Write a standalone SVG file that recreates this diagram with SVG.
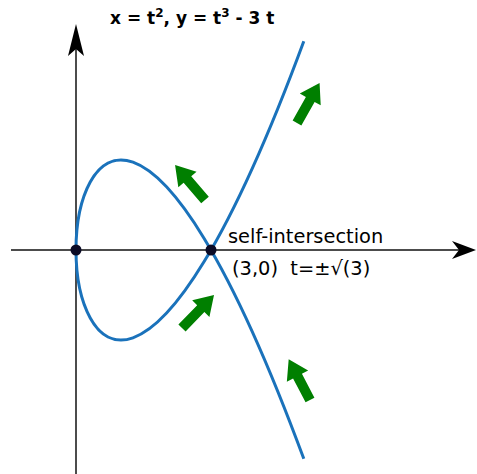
<svg xmlns="http://www.w3.org/2000/svg" width="477" height="474" viewBox="0 0 477 474">
<style>
.axis{stroke:#111;stroke-width:1.5;fill:none}
.head{fill:#000}
.curve{stroke:#1a72bb;stroke-width:3;fill:none}
.dot{fill:#0b0b26}
.garrow{fill:#007f00}
.lbl{font-family:"DejaVu Sans",sans-serif;font-size:19.4px;fill:#000;white-space:pre}
.title{font-family:"DejaVu Sans",sans-serif;font-size:17px;font-weight:bold;fill:#000}
</style>
<defs>
<path id="ga" d="M0,-5 H27 V-12 L46,0 L27,12 V5 H0 Z"/>
</defs>
<rect width="477" height="474" fill="#fff"/>
<g id="connectors">
<line class="axis" x1="11" y1="250" x2="465" y2="250"/>
<path class="head" d="M476,250 L452,259 L459,250 L452,241 Z"/>
<line class="axis" x1="76" y1="474" x2="76" y2="35"/>
<path class="head" d="M76,24 L84,56 L76,49 L68,56 Z"/>
</g>
<g id="curve">
<path class="curve" d="M303.81,458.83 C0.06,-363.83 0.06,863.83 303.81,41.17"/>
</g>
<g id="arrows" class="garrow">
<use href="#ga" transform="translate(205,200) rotate(-130.6)"/>
<use href="#ga" transform="translate(297,123) rotate(-60.6)"/>
<use href="#ga" transform="translate(182,328) rotate(-45.9)"/>
<use href="#ga" transform="translate(310,400) rotate(-117.6)"/>
</g>
<g id="origin"><circle class="dot" cx="76" cy="250" r="5.5"/></g>
<g id="intersection"><circle class="dot" cx="211" cy="250" r="5.5"/></g>
<g id="labels">
<text class="lbl" x="228" y="243">self-intersection</text>
<text class="lbl" x="232" y="275">(3,0)  t=±√(3)</text>
<text class="title" x="110" y="24">x = t<tspan font-size="12" dy="-7">2</tspan><tspan dy="7">, y = t</tspan><tspan font-size="12" dy="-7">3</tspan><tspan dy="7"> - 3 t</tspan></text>
</g>
</svg>
